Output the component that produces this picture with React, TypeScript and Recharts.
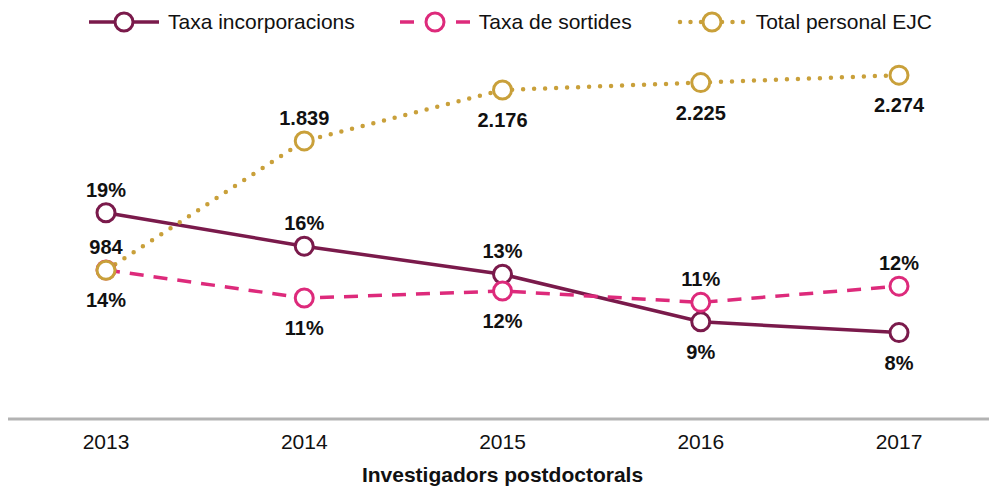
import React from 'react';
import { LineChart, Line, XAxis, YAxis } from 'recharts';

const years = ['2013', '2014', '2015', '2016', '2017'];
const taxaIncorporacions = [19.1, 16.0, 13.4, 9.0, 8.0];
const taxaSortides = [13.8, 11.2, 11.85, 10.8, 12.3];
const totalEJC = [984, 1839, 2176, 2225, 2274];

// where each value label sits relative to its point
const incLabelPos = ['top', 'top', 'top', 'bottom', 'bottom'];
const sortLabelPos = ['bottom', 'bottom', 'bottom', 'top', 'top'];
const ejcLabelPos = ['top', 'top', 'bottom', 'bottom', 'bottom'];

const data = years.map((year, i) => ({
  year,
  inc: taxaIncorporacions[i],
  sort: taxaSortides[i],
  ejc: totalEJC[i],
}));

const COLORS = {
  inc: '#7a1a4b',
  sort: '#dd2a7b',
  ejc: '#c9a03a',
};

const FONT = '"Liberation Sans", Arial, Helvetica, sans-serif';

const fmtPct = (v: number) => `${Math.round(v)}%`;
const fmtNum = (v: number) => String(v).replace(/\B(?=(\d{3})+(?!\d))/g, '.');

const makeLabel = (positions: string[], fmt: (v: number) => string) => (props: any) => {
  const { x, y, value, index } = props;
  if (x == null || y == null) return null;
  const pos = positions[index] || 'top';
  return (
    <text
      key={`lbl-${index}`}
      x={x}
      y={pos === 'top' ? y - 16 : y + 37}
      textAnchor="middle"
      fill="#111"
      fontSize={20}
      fontWeight="bold"
      fontFamily={FONT}
    >
      {fmt(value)}
    </text>
  );
};

// dots must stay solid circles even on dashed / dotted lines
const dotStyle = (color: string) => ({
  r: 9,
  fill: '#fff',
  stroke: color,
  strokeWidth: 3,
  strokeDasharray: 'none',
  strokeLinecap: 'butt' as const,
});

function LegendIcon({ kind, color }: { kind: string; color: string }) {
  return (
    <svg width={70} height={24} style={{ display: 'block' }}>
      {kind === 'solid' && <line x1={0} y1={12} x2={70} y2={12} stroke={color} strokeWidth={3.5} />}
      {kind === 'dashed' && (
        <>
          <line x1={0} y1={12} x2={14} y2={12} stroke={color} strokeWidth={3.5} />
          <line x1={56} y1={12} x2={70} y2={12} stroke={color} strokeWidth={3.5} />
        </>
      )}
      {kind === 'dotted' && (
        <line x1={3} y1={12} x2={68} y2={12} stroke={color} strokeWidth={4.5} strokeDasharray="0 10.5" strokeLinecap="round" />
      )}
      <circle cx={35} cy={12} r={9} fill="#fff" stroke={color} strokeWidth={3} />
    </svg>
  );
}

const legendItems = [
  { name: 'Taxa incorporacions', kind: 'solid', color: COLORS.inc },
  { name: 'Taxa de sortides', kind: 'dashed', color: COLORS.sort },
  { name: 'Total personal EJC', kind: 'dotted', color: COLORS.ejc },
];

export default function App() {
  return (
    <div style={{ position: 'relative', width: 989, height: 478, fontFamily: FONT }}>
      {/* legend */}
      <div
        style={{
          position: 'absolute',
          left: 81,
          top: 2,
          display: 'flex',
          alignItems: 'center',
          gap: 45,
          fontSize: 21,
          color: '#111',
        }}
      >
        {legendItems.map((item) => (
          <div key={item.name} style={{ display: 'flex', alignItems: 'center', gap: 9 }}>
            <LegendIcon kind={item.kind} color={item.color} />
            <span>{item.name}</span>
          </div>
        ))}
      </div>

      <LineChart width={989} height={478} data={data} margin={{ top: 33, right: 0, bottom: 0, left: 0 }}>
        <XAxis
          dataKey="year"
          height={67}
          padding={{ left: 98, right: 98 }}
          tickLine={false}
          tickSize={0}
          tickMargin={15}
          interval={0}
          axisLine={{ stroke: '#b3b3b3', strokeWidth: 3 }}
          tick={{ fill: '#111', fontSize: 21, fontFamily: FONT }}
        />
        <YAxis yAxisId="pct" hide domain={[0, 35]} />
        <YAxis yAxisId="ejc" hide domain={[0, 2500]} orientation="right" />

        <Line
          yAxisId="pct"
          dataKey="inc"
          stroke={COLORS.inc}
          strokeWidth={3.5}
          dot={dotStyle(COLORS.inc)}
          activeDot={false}
          isAnimationActive={false}
          label={makeLabel(incLabelPos, fmtPct)}
        />
        <Line
          yAxisId="pct"
          dataKey="sort"
          stroke={COLORS.sort}
          strokeWidth={3.5}
          strokeDasharray="14 10"
          dot={dotStyle(COLORS.sort)}
          activeDot={false}
          isAnimationActive={false}
          label={makeLabel(sortLabelPos, fmtPct)}
        />
        <Line
          yAxisId="ejc"
          dataKey="ejc"
          stroke={COLORS.ejc}
          strokeWidth={4.5}
          strokeDasharray="0 11"
          strokeLinecap="round"
          dot={dotStyle(COLORS.ejc)}
          activeDot={false}
          isAnimationActive={false}
          label={makeLabel(ejcLabelPos, fmtNum)}
        />
      </LineChart>

      {/* axis title */}
      <div
        style={{
          position: 'absolute',
          left: 0,
          width: 989,
          top: 455,
          textAlign: 'center',
          fontSize: 21,
          fontWeight: 'bold',
          color: '#111',
        }}
      >
        Investigadors postdoctorals
      </div>
    </div>
  );
}
